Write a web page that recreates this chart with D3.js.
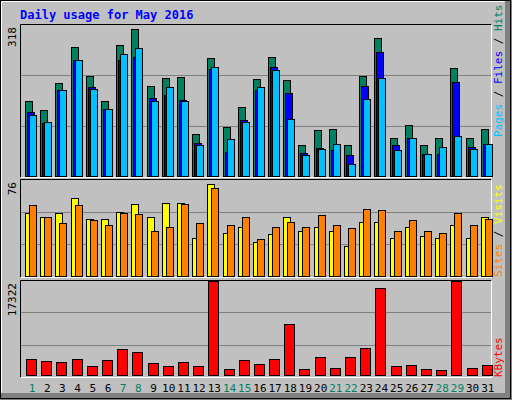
<!DOCTYPE html>
<html><head><meta charset="utf-8">
<script src="https://cdn.jsdelivr.net/npm/d3@7"></script>
<style>body{margin:0;background:#fff}</style>
</head><body><div id="chart"></div>
<script>
// values
const days = d3.range(1, 32)
const weekend = [1, 7, 8, 14, 15, 21, 22, 28, 29]
const hits  = [158,139,195,271,210,159,276,309,189,206,208,88,248,103,145,204,250,202,65,96,98,65,210,290,81,107,65,81,227,81,100]
const files = [134,112,181,244,187,141,244,251,164,171,161,69,225,50,118,181,229,174,48,60,54,44,189,261,65,81,46,46,199,62,67]
const pages = [128,113,181,244,183,141,257,269,158,187,159,65,229,77,113,187,223,119,44,56,67,25,162,206,54,81,46,62,84,56,67]
const visits = [50,47,50,62,45,45,51,57,47,58,58,30,73,34,39,27,33,47,36,39,36,24,43,43,30,39,32,30,40,30,47]
const sites  = [56,47,42,56,44,40,50,49,36,39,57,42,70,40,47,29,39,43,39,48,40,38,53,52,36,44,36,34,50,40,45]
const kbytes = [2800,2450,2275,2800,1575,2625,4375,3850,2100,1575,2275,1575,15925,1050,2625,1925,2800,8575,1050,3150,1225,3150,4550,14700,1575,1750,1050,875,15925,1225,1750]
const maxLabels = ["318", "76", "17322"]

const W = 512, H = 400
const mono = "'DejaVu Sans Mono', 'Liberation Mono', monospace"
const svg = d3.select("#chart").append("svg").attr("width", W).attr("height", H)

// outer 3d frame
svg.append("rect").attr("width", W).attr("height", H).attr("fill", "#c0c0c0")
svg.append("rect").attr("x", 505).attr("y", 0).attr("width", 7).attr("height", H).attr("fill", "#808080")
svg.append("rect").attr("x", 0).attr("y", 393).attr("width", W).attr("height", 7).attr("fill", "#808080")
svg.append("rect").attr("x", 0.5).attr("y", 0.5).attr("width", 510).attr("height", 398)
	.attr("fill", "none").attr("stroke", "#000")
svg.append("path").attr("d", "M1.5,392.5V1.5H504.5").attr("fill", "none").attr("stroke", "#fff")

svg.append("text").attr("x", 20).attr("y", 19)
	.attr("font-family", mono).attr("font-weight", "bold").attr("font-size", "12px")
	.attr("fill", "#0000ff").text("Daily usage for May 2016")

const x = d3.scaleBand().domain(days).range([21, 492]).padding(0)
const left = 20, right = 491

// panel frames: top, bottom, y scale
const panels = [
	{top: 24, bottom: 177, y: d3.scaleLinear().domain([0, 318]).range([176, 25])},
	{top: 179, bottom: 277, y: d3.scaleLinear().domain([0, 76]).range([276, 180])},
	{top: 280, bottom: 377, y: d3.scaleLinear().domain([0, 17322]).range([375.3, 272.4])}
]

panels.forEach((p, i) => {
	const g = svg.append("g")
	g.append("path").attr("d", `M${left + 0.5},${p.bottom + 0.5}V${p.top + 0.5}H${right + 0.5}`)
		.attr("fill", "none").attr("stroke", "#000")
	g.append("path").attr("d", `M${right + 0.5},${p.top + 0.5}V${p.bottom + 0.5}H${left + 0.5}`)
		.attr("fill", "none").attr("stroke", "#fff")
	const h = p.bottom - p.top
	;[1 / 3, 2 / 3].forEach(f => {
		const yy = Math.round(p.bottom - h * f) + 0.5
		g.append("line").attr("x1", left + 1).attr("x2", right).attr("y1", yy).attr("y2", yy)
			.attr("stroke", "#808080")
	})
	svg.append("text")
		.attr("transform", `translate(16,${p.top + 3}) rotate(-90)`)
		.attr("text-anchor", "end")
		.attr("font-family", mono).attr("font-size", "11px").attr("fill", "#000")
		.text(maxLabels[i])
})

function bars(values, panel, dx, w, colour) {
	const y = panels[panel].y
	svg.append("g").selectAll("rect").data(values).enter().append("rect")
		.attr("x", (d, i) => Math.round(x(days[i])) + dx + 0.5)
		.attr("y", d => Math.round(y(d)) + 0.5)
		.attr("width", w)
		.attr("height", d => Math.round(y(0)) - Math.round(y(d)))
		.attr("fill", colour).attr("stroke", "#000")
}

bars(hits, 0, 4, 7, "#008060")
bars(files, 0, 6, 7, "#0000ff")
bars(pages, 0, 8, 7, "#00c0ff")
bars(visits, 1, 4, 7, "#ffff00")
bars(sites, 1, 8, 7, "#ff8000")
bars(kbytes, 2, 5, 10, "#ff0000")

// day labels
svg.append("g").selectAll("text").data(days).enter().append("text")
	.attr("x", d => x(d) + 11)
	.attr("y", 392)
	.attr("text-anchor", "middle")
	.attr("font-family", mono).attr("font-size", "11px")
	.attr("fill", d => weekend.includes(d) ? "#008060" : "#000")
	.text(d => d)

// right-hand legends, read bottom to top
function legend(parts, ystart) {
	const t = svg.append("text")
		.attr("transform", `translate(502,${ystart}) rotate(-90)`)
		.attr("font-family", mono).attr("font-size", "11px")
	parts.forEach(p => t.append("tspan").attr("fill", p[1]).text(p[0]))
}
legend([["Pages", "#00c0ff"], [" / ", "#000"], ["Files", "#0000ff"], [" / ", "#000"], ["Hits", "#008060"]], 137)
legend([["Sites", "#ff8000"], [" / ", "#000"], ["Visits", "#ffff00"]], 277)
legend([["KBytes", "#ff0000"]], 377)
</script>
</body></html>
